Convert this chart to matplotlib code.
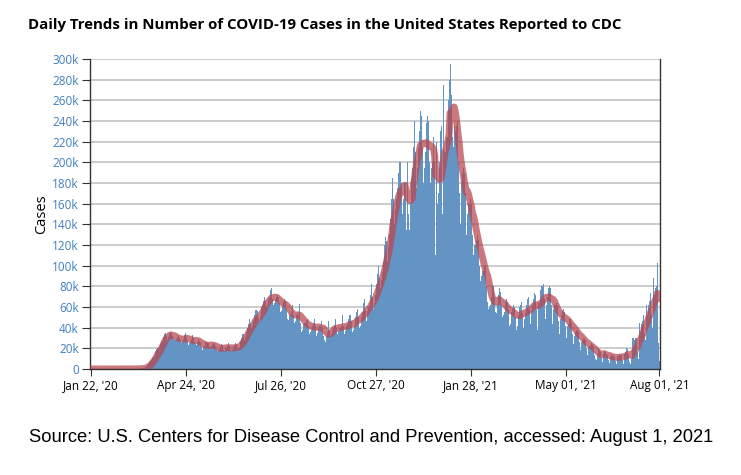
import numpy as np
import pandas as pd
import matplotlib
matplotlib.use("Agg")
import matplotlib.pyplot as plt

# ----- data (daily new cases, thousands; one row per week, Wed..Tue) -------
start_date = "2020-01-22"
cases_k = [
    0, 0, 0, 0, 0, 0, 0,
    0, 0, 0, 0, 0, 0, 0,
    0, 0, 0, 0, 0, 0, 0,
    0, 0, 0, 0, 0, 0, 0,
    0, 0, 0, 0, 0, 0, 0,
    0, 0, 0, 0, 0, 0, 0.03,
    0.05, 0.1, 0.1, 0.1, 0.1, 0.2, 0.3,
    0.4, 0.5, 0.8, 0.9, 1.2, 1.8, 2.5,
    3.5, 4.8, 6.5, 7.5, 9, 11, 11.5,
    13, 17, 19, 20, 19, 21, 24,
    27, 31, 34, 35, 32, 28, 31,
    34, 36, 35, 32, 30, 28, 28,
    29, 31, 32, 30, 28, 25, 27,
    29, 33, 35, 31, 27, 23, 25,
    27, 29, 33, 30, 26, 24, 23,
    26, 29, 27, 26, 21, 18, 22,
    22, 27, 26, 25, 19, 21, 22,
    23, 25, 24, 22, 19, 17, 18,
    19, 22, 24, 23, 18, 17, 20,
    20, 22, 25, 22, 18, 17, 18,
    21, 23, 25, 24, 19, 19, 21,
    27, 30, 34, 34, 28, 31, 36,
    40, 44, 48, 45, 40, 42, 47,
    52, 57, 56, 48, 46, 50, 60,
    62, 66, 70, 66, 60, 62, 68,
    70, 76, 78, 68, 62, 64, 68,
    70, 72, 70, 64, 55, 56, 62,
    66, 68, 66, 58, 48, 47, 52,
    53, 56, 62, 52, 45, 46, 52,
    54, 52, 63, 45, 36, 38, 44,
    45, 47, 48, 42, 34, 36, 38,
    42, 45, 48, 42, 32, 35, 40,
    42, 42, 46, 40, 32, 28, 26,
    32, 36, 46, 38, 32, 34, 38,
    40, 43, 48, 40, 34, 37, 40,
    40, 42, 52, 42, 34, 37, 42,
    44, 48, 52, 46, 36, 38, 42,
    50, 55, 58, 50, 40, 42, 50,
    55, 64, 68, 56, 46, 56, 60,
    62, 72, 82, 70, 58, 64, 72,
    82, 92, 100, 88, 78, 86, 94,
    104, 120, 128, 124, 104, 118, 130,
    145, 165, 185, 165, 140, 155, 165,
    175, 190, 200, 180, 150, 165, 180,
    180, 135, 200, 150, 135, 160, 185,
    195, 215, 240, 210, 175, 195, 215,
    230, 250, 245, 215, 180, 195, 210,
    238, 245, 240, 200, 180, 195, 200,
    225, 200, 110, 220, 160, 170, 200,
    230, 235, 150, 275, 210, 190, 225,
    260, 280, 295, 265, 225, 215, 235,
    230, 235, 240, 200, 170, 140, 180,
    190, 195, 190, 170, 130, 150, 160,
    160, 165, 160, 130, 110, 120, 120,
    125, 130, 125, 100, 85, 90, 95,
    95, 100, 100, 80, 65, 58, 60,
    62, 70, 80, 70, 55, 54, 62,
    72, 78, 75, 62, 50, 52, 55,
    65, 68, 65, 58, 42, 44, 55,
    58, 62, 60, 50, 38, 42, 52,
    60, 62, 65, 54, 40, 48, 54,
    62, 68, 70, 58, 44, 56, 62,
    68, 74, 72, 58, 38, 64, 64,
    76, 80, 82, 68, 48, 62, 70,
    78, 80, 78, 62, 44, 58, 62,
    62, 64, 62, 46, 34, 48, 52,
    56, 58, 55, 42, 30, 42, 44,
    48, 48, 45, 34, 24, 32, 36,
    38, 38, 36, 26, 18, 26, 28,
    30, 30, 28, 20, 14, 20, 22,
    25, 24, 22, 14, 10, 9, 15,
    20, 18, 16, 11, 7, 15, 17,
    16, 15, 14, 9, 6, 12, 14,
    14, 13, 12, 8, 5, 13, 13,
    15, 14, 14, 9, 5, 15, 16,
    20, 19, 14, 7, 5, 10, 30,
    30, 28, 30, 16, 10, 45, 36,
    44, 46, 52, 34, 28, 62, 52,
    62, 66, 74, 52, 40, 88, 72,
    78, 80, 103, 25, 8,
]
tick_dates = ["2020-01-22", "2020-04-24", "2020-07-26", "2020-10-27",
              "2021-01-28", "2021-05-01", "2021-08-01"]
tick_labels = ["Jan 22, '20", "Apr 24, '20", "Jul 26, '20", "Oct 27, '20",
               "Jan 28, '21", "May 01, '21", "Aug 01, '21"]
y_ticks = np.arange(0, 300001, 20000)
y_labels = ["0"] + [f"{v // 1000}k" for v in y_ticks[1:]]

title = "Daily Trends in Number of COVID-19 Cases in the United States Reported to CDC"
source = "Source: U.S. Centers for Disease Control and Prevention, accessed: August 1, 2021"

dates = pd.date_range(start_date, periods=len(cases_k), freq="D")
cases = pd.Series(np.array(cases_k) * 1000, index=dates)
avg7 = cases.rolling(7, min_periods=1).mean()

# ----- plot ----------------------------------------------------------------
plt.rcParams["font.family"] = ["Open Sans", "DejaVu Sans"]

fig = plt.figure(figsize=(7.41, 4.75), dpi=100)
ax = fig.add_axes([90 / 741, 1 - 369 / 475, 570 / 741, 310 / 475])

ax.bar(dates, cases.values, width=1.05, color="#6394c3", edgecolor="none",
       linewidth=0, zorder=2)
ax.plot(dates, avg7.values, color="#b8464e", lw=5, alpha=0.72,
        solid_capstyle="butt", zorder=3)

ax.set_xlim(dates[0] - pd.Timedelta(hours=12), dates[-1] + pd.Timedelta(hours=12))
ax.set_ylim(0, 300000)
ax.set_yticks(y_ticks)
ax.set_yticklabels(y_labels, color="#3f7fbf", fontsize=8.5)
ax.set_xticks(pd.to_datetime(tick_dates))
ax.set_xticklabels(tick_labels, fontsize=8.5)
ax.tick_params(axis="y", length=6, width=0.8, color="#333333", pad=2)
ax.tick_params(axis="x", length=5, width=0.8, color="#333333", pad=2)

ax.grid(axis="y", color="#c4c4c4", lw=1.2, zorder=0)
ax.set_axisbelow(True)
ax.spines["top"].set_visible(False)
for s in ["left", "right", "bottom"]:
    ax.spines[s].set_color("#333333")
    ax.spines[s].set_linewidth(1.0)

ax.set_ylabel("Cases", fontsize=10.5, labelpad=2)

fig.text(28 / 741, 1 - 25 / 475, title, fontsize=10.8, fontweight="bold",
         ha="left", va="center")
fig.text(371 / 741, 1 - 438 / 475, source, fontsize=13.2,
         family=["Liberation Sans", "DejaVu Sans"], ha="center", va="center")

fig.savefig("out.png", dpi=100)
